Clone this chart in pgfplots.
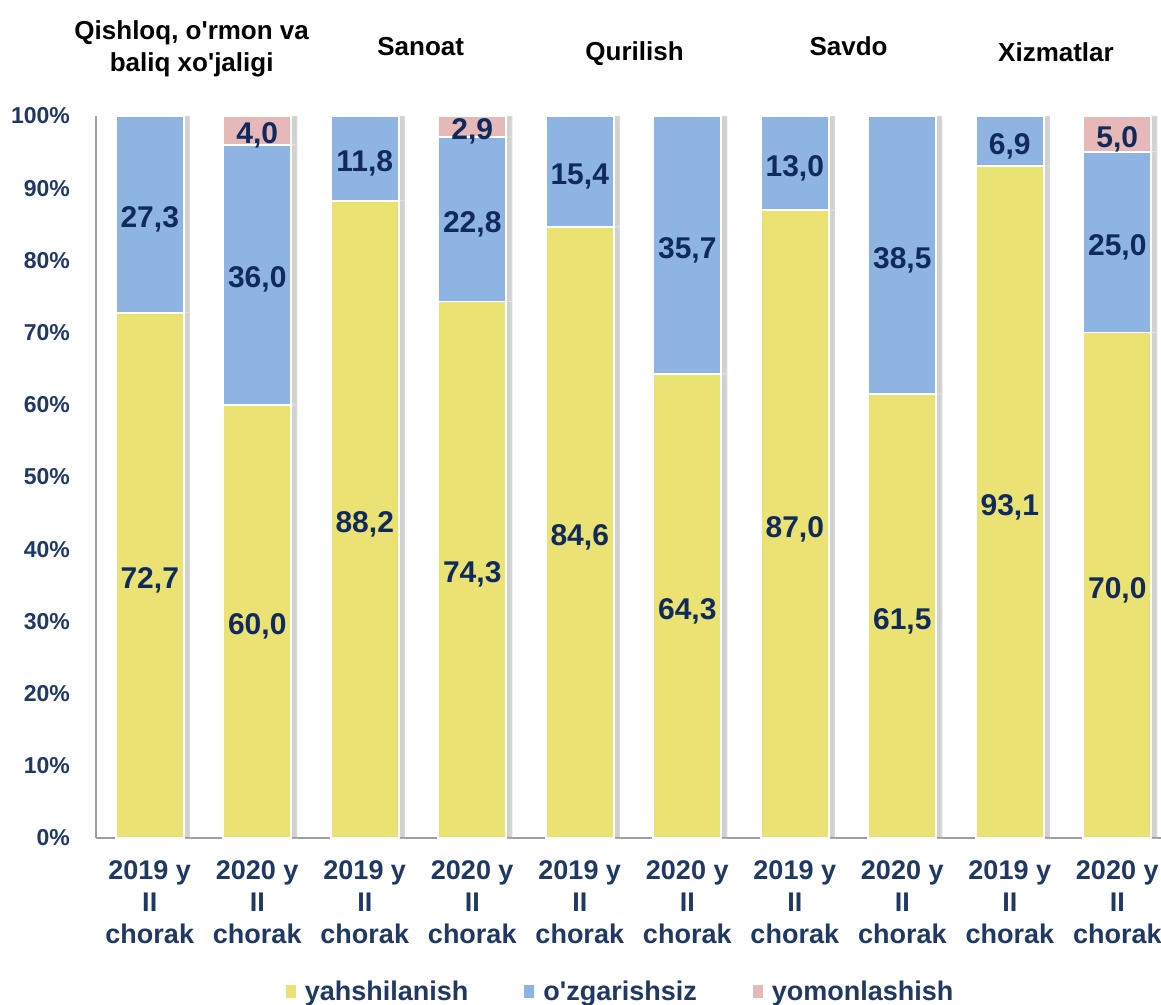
\documentclass[border=0pt]{standalone}
\usepackage{pgfplots}
\pgfplotsset{compat=1.18}
\usepackage{fontspec}
\setmainfont{Liberation Sans}
\usetikzlibrary{shadows}
\definecolor{cyel}{HTML}{EBE274}
\definecolor{cblue}{HTML}{8EB4E3}
\definecolor{cpink}{HTML}{E6B9B8}
\definecolor{tnavy}{HTML}{1F3864}
\definecolor{dnavy}{HTML}{102A5E}
\newcommand{\q}{\textquotesingle}
\tikzset{barshadow/.style={drop shadow={shadow xshift=3pt, shadow yshift=0pt, fill=black, opacity=0.18}}}
\pgfplotstableread{
x y lab
0 36.35 72,7
1 30.00 60,0
2 44.10 88,2
3 37.15 74,3
4 42.30 84,6
5 32.15 64,3
6 43.50 87,0
7 30.75 61,5
8 46.55 93,1
9 35.00 70,0
0 86.35 27,3
1 78.00 36,0
2 94.10 11,8
3 85.70 22,8
4 92.30 15,4
5 82.15 35,7
6 93.50 13,0
7 80.75 38,5
8 96.55 6,9
9 82.50 25,0
1 98.00 4,0
3 98.55 2,9
9 97.50 5,0
}\labels
\begin{document}
\begin{tikzpicture}
\begin{axis}[
  at={(48pt,83.5pt)}, anchor=south west,
  scale only axis, width=537.5pt, height=361pt,
  xmin=-0.5, xmax=9.5, ymin=0, ymax=100,
  ybar stacked, bar width=34pt,
  axis x line*=bottom, axis y line*=left,
  axis line style={draw=gray!75, line width=0.8pt, -},
  major tick length=0pt,
  xtick={0,...,9},
  xticklabels={{2019 y\\II\\chorak},{2020 y\\II\\chorak},{2019 y\\II\\chorak},{2020 y\\II\\chorak},{2019 y\\II\\chorak},{2020 y\\II\\chorak},{2019 y\\II\\chorak},{2020 y\\II\\chorak},{2019 y\\II\\chorak},{2020 y\\II\\chorak}},
  xticklabel style={align=center, font=\bfseries\fontsize{13.5}{16}\selectfont, text=tnavy, yshift=-8pt},
  ytick={0,10,...,100},
  yticklabels={0\%,10\%,20\%,30\%,40\%,50\%,60\%,70\%,80\%,90\%,100\%},
  yticklabel style={font=\bfseries\fontsize{11.5}{13}\selectfont, text=tnavy, xshift=-9.5pt},
  clip=false,
  legend columns=3,
  legend style={at={(0.489,-0.213)}, anchor=center, draw=none, fill=none,
    font=\bfseries\fontsize{13.5}{16}\selectfont, text=tnavy,
    /tikz/every odd column/.append style={column sep=2.5pt},
    /tikz/every even column/.append style={column sep=26pt}},
  legend image code/.code={\fill[#1, draw=none] (0pt,-3pt) rectangle (5pt,3.5pt);},
]
\addplot[fill=cyel, draw=white, line width=0.8pt, barshadow, forget plot] coordinates {(0,72.7) (1,60.0) (2,88.2) (3,74.3) (4,84.6) (5,64.3) (6,87.0) (7,61.5) (8,93.1) (9,70.0)};
\addplot[fill=cblue, draw=white, line width=0.8pt, barshadow, forget plot] coordinates {(0,27.3) (1,36.0) (2,11.8) (3,22.8) (4,15.4) (5,35.7) (6,13.0) (7,38.5) (8,6.9) (9,25.0)};
\addplot[fill=cpink, draw=white, line width=0.8pt, barshadow, forget plot] coordinates {(0,0) (1,4.0) (2,0) (3,2.9) (4,0) (5,0) (6,0) (7,0) (8,0) (9,5.0)};
\addlegendimage{fill=cyel}
\addlegendimage{fill=cblue}
\addlegendimage{fill=cpink}
\legend{yahshilanish, o\q zgarishsiz, yomonlashish}
\node[align=center, font=\bfseries\fontsize{13}{16}\selectfont] at (axis cs:0.39,109.3) {Qishloq, o\q rmon va\\baliq xo\q jaligi};
\node[font=\bfseries\fontsize{13}{16}\selectfont] at (axis cs:2.52,109.6) {Sanoat};
\node[font=\bfseries\fontsize{13}{16}\selectfont] at (axis cs:4.51,108.7) {Qurilish};
\node[font=\bfseries\fontsize{13}{16}\selectfont] at (axis cs:6.5,109.6) {Savdo};
\node[font=\bfseries\fontsize{13}{16}\selectfont] at (axis cs:8.43,108.9) {Xizmatlar};
\end{axis}
\begin{axis}[
  at={(48pt,83.5pt)}, anchor=south west,
  scale only axis, width=537.5pt, height=361pt,
  xmin=-0.5, xmax=9.5, ymin=0, ymax=100,
  hide axis, clip=false,
]
\addplot[only marks, mark=none, nodes near coords, point meta=explicit symbolic,
  every node near coord/.append style={font=\bfseries\fontsize{15}{18}\selectfont, text=dnavy, anchor=center, yshift=-2.5pt}]
  table[x=x, y=y, meta=lab] {\labels};
\end{axis}
\pgfresetboundingbox
\useasboundingbox (0,0) rectangle (580.5pt,502.5pt);
\end{tikzpicture}
\end{document}
